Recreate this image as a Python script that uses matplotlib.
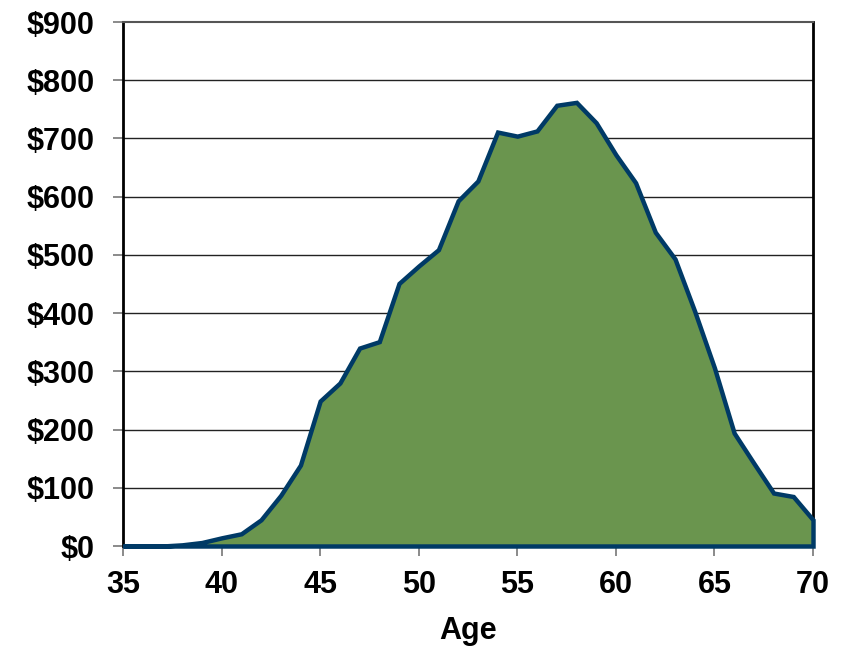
import matplotlib.pyplot as plt
import numpy as np

# age vs dollars
ages = np.arange(35, 71)
values = [0, 0, 0, 2, 6, 14, 21, 45, 87, 139,
          249, 280, 340, 351, 451, 481, 509, 593, 627, 711,
          704, 713, 757, 762, 727, 672, 624, 539, 493, 403,
          306, 194, 142, 91, 85, 45]

y_ticks = np.arange(0, 901, 100)
x_ticks = np.arange(35, 71, 5)

fill_color = '#6a954e'
line_color = '#003a66'

plt.rcParams['font.family'] = ['Liberation Sans', 'DejaVu Sans']

fig = plt.figure(figsize=(8.46, 6.48), dpi=100)
ax = fig.add_axes([0.1454, 0.1574, 0.8156, 0.8086])

ax.fill_between(ages, values, 0, facecolor=fill_color, edgecolor=line_color,
                linewidth=3.2, joinstyle='miter', clip_on=False, zorder=3)

ax.set_xlim(35, 70)
ax.set_ylim(0, 900)
ax.set_yticks(y_ticks)
ax.set_yticklabels(['$' + str(v) for v in y_ticks])
ax.set_xticks(x_ticks)

for v in y_ticks[1:-1]:
    ax.axhline(v, color='#222222', linewidth=1.0, zorder=1)

for lab in ax.get_xticklabels() + ax.get_yticklabels():
    lab.set_fontweight('bold')
    lab.set_fontsize(22)

ax.tick_params(axis='both', direction='out', length=7.5, width=1.2, color='#777777')
ax.tick_params(axis='y', pad=13)
ax.tick_params(axis='x', pad=10)

ax.spines['left'].set_color('black')
ax.spines['left'].set_linewidth(2)
ax.spines['right'].set_color('black')
ax.spines['right'].set_linewidth(2)
ax.spines['top'].set_color('#555555')
ax.spines['top'].set_linewidth(1.5)
ax.spines['bottom'].set_color('#777777')

ax.set_xlabel('Age', fontsize=22, fontweight='bold', labelpad=11)

plt.savefig('out.png')
